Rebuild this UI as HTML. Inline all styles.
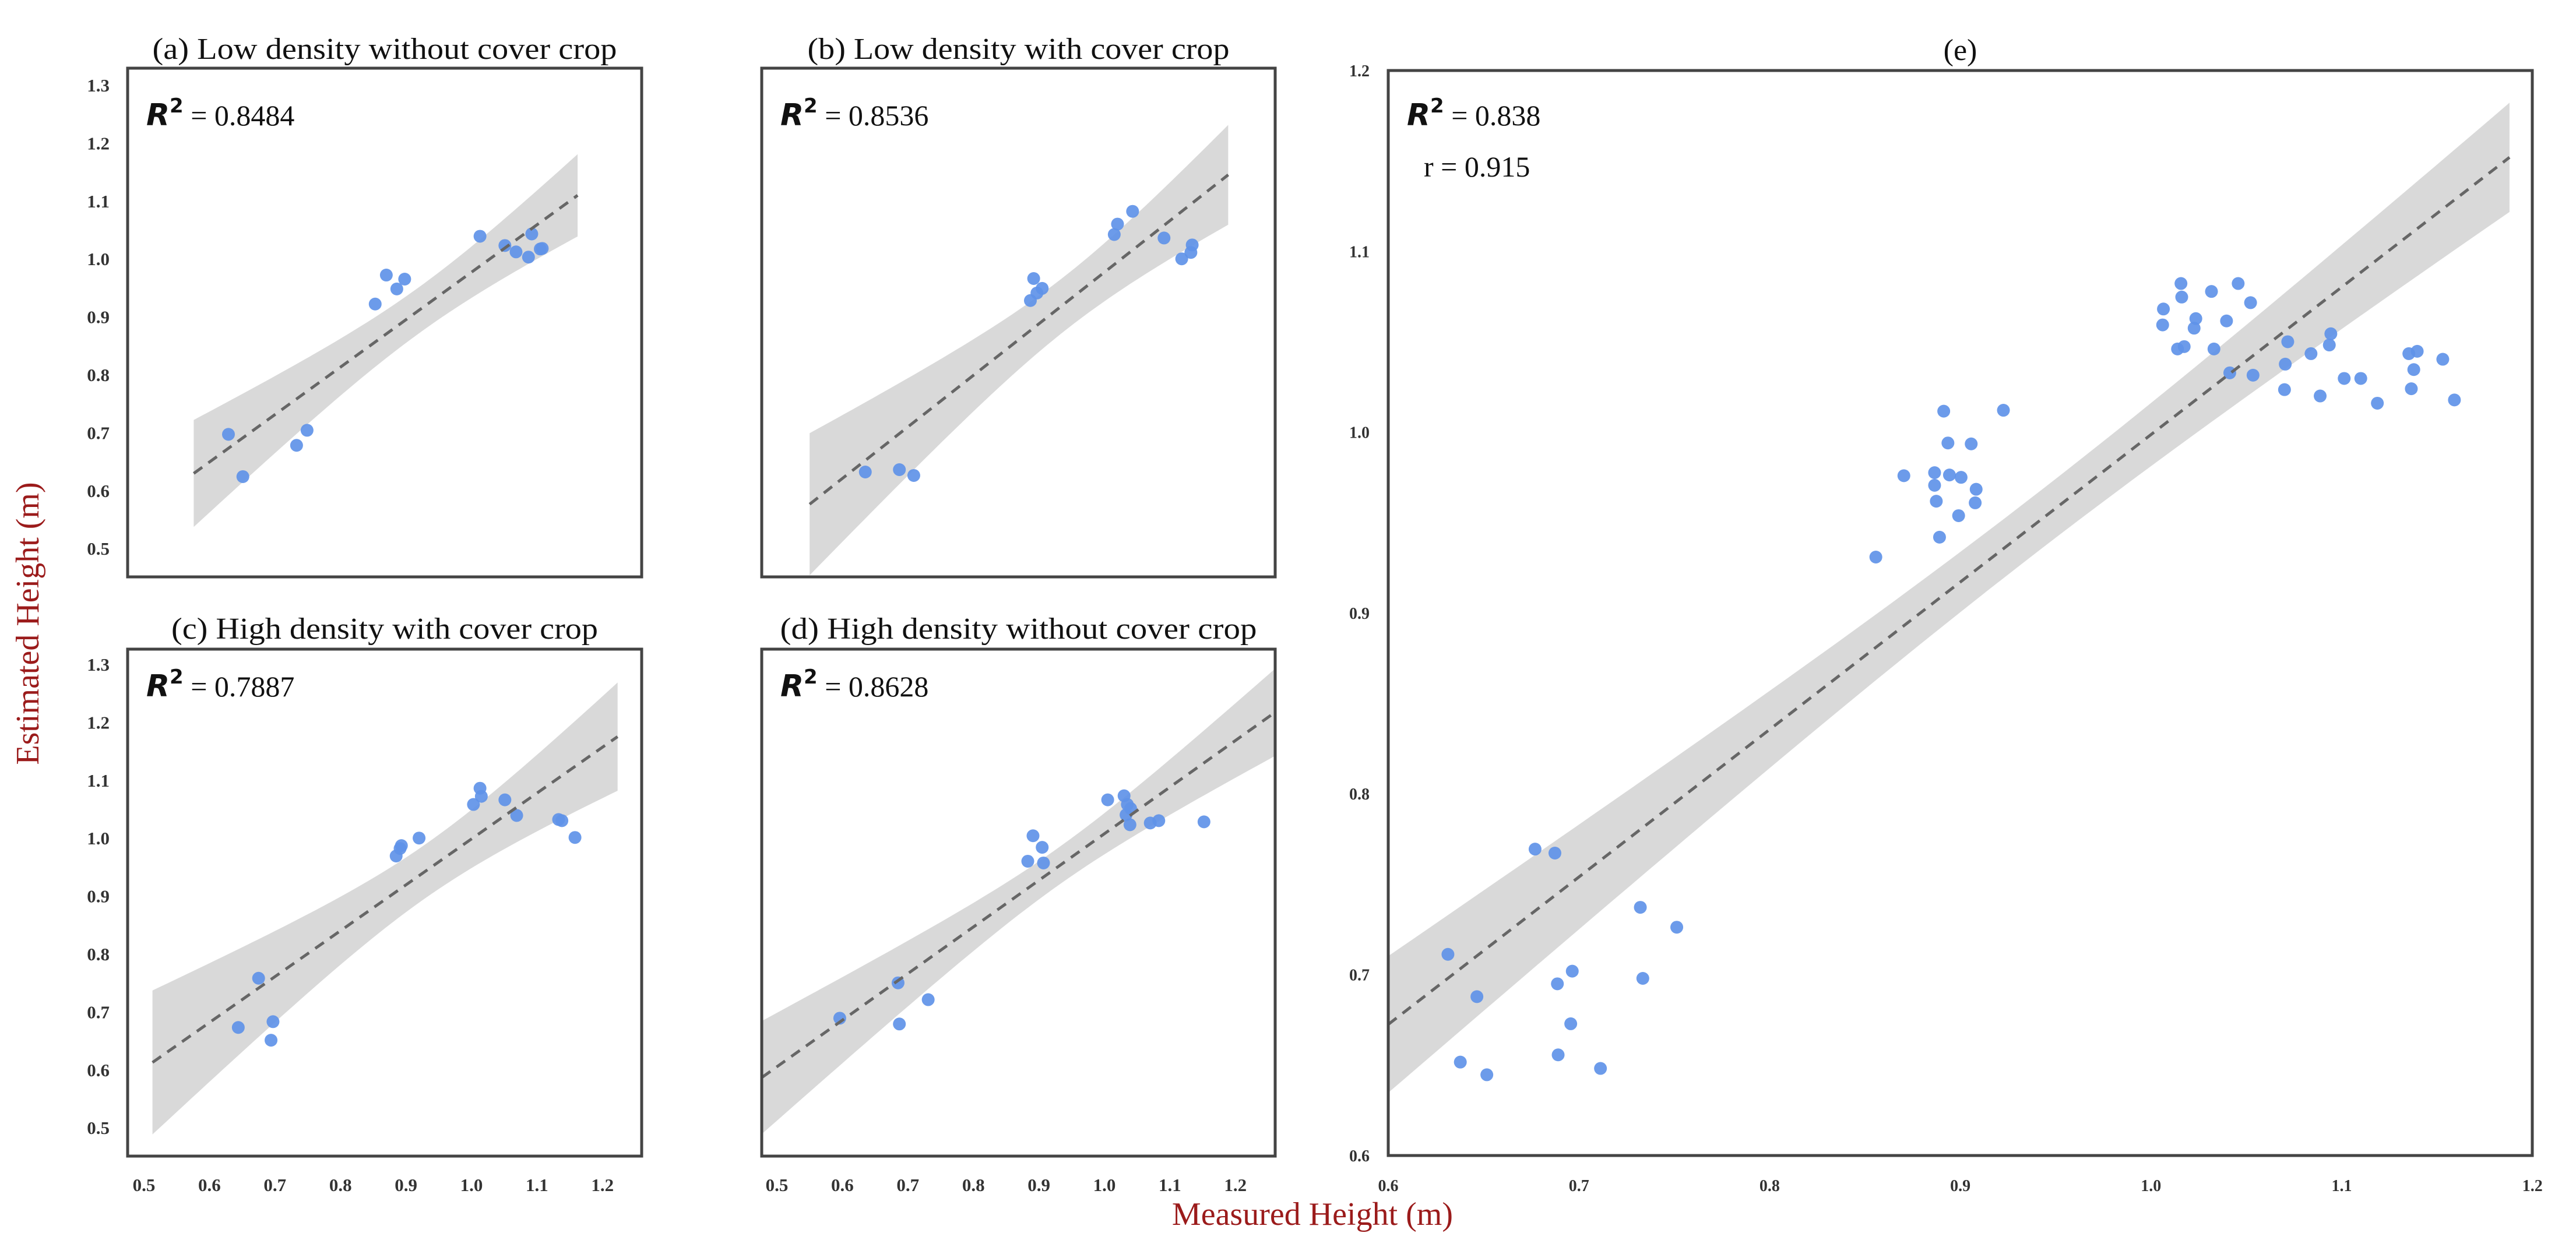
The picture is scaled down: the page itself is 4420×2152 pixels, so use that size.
<!DOCTYPE html>
<html><head><meta charset="utf-8">
<style>
html,body{margin:0;padding:0;background:#fff;}
svg{display:block;}
text{font-family:"Liberation Serif",serif;}
</style></head>
<body>
<svg id="fig" xmlns="http://www.w3.org/2000/svg" width="4420" height="2152" viewBox="0 0 4420 2152"></svg>
<script>
// ---- data (measured, estimated) per panel ----
const aX=[0.629,0.651,0.733,0.749,0.853,0.870,0.886,0.898,1.013,1.051,1.068,1.087,1.092,1.105,1.108];
const aY=[0.698,0.625,0.679,0.705,0.923,0.973,0.949,0.966,1.040,1.024,1.013,1.004,1.044,1.018,1.019];
const bX=[0.635,0.687,0.709,0.887,0.892,0.897,0.905,1.015,1.020,1.043,1.091,1.118,1.132,1.134];
const bY=[0.633,0.637,0.627,0.929,0.967,0.942,0.950,1.043,1.061,1.083,1.037,1.001,1.012,1.025];
const cX=[0.644,0.675,0.694,0.697,0.885,0.891,0.893,0.920,1.003,1.013,1.015,1.051,1.069,1.133,1.138,1.158];
const cY=[0.674,0.759,0.652,0.684,0.970,0.983,0.988,1.001,1.059,1.087,1.073,1.067,1.040,1.033,1.031,1.002];
const dX=[0.596,0.685,0.687,0.731,0.883,0.891,0.905,0.907,1.005,1.030,1.033,1.035,1.039,1.040,1.070,1.083,1.152];
const dY=[0.690,0.751,0.680,0.722,0.961,1.005,0.985,0.958,1.067,1.074,1.041,1.059,1.024,1.052,1.027,1.031,1.029];
const eX=[0.6313,0.6465,0.6378,0.6517,0.6770,0.6874,0.6887,0.6965,0.6957,0.6891,0.7113,0.7322,0.7335,0.7513,0.8557,0.8704,0.8865,0.8865,0.8874,0.8891,0.8913,0.8935,0.8943,0.9004,0.8991,0.9057,0.9083,0.9078,0.9226,1.0065,1.0061,1.0157,1.0161,1.0139,1.0174,1.0235,1.0226,1.0317,1.0330,1.0396,1.0413,1.0457,1.0522,1.0535,1.0717,1.0704,1.0700,1.0839,1.0887,1.0943,1.0935,1.1013,1.1100,1.1187,1.1352,1.1396,1.1378,1.1365,1.1530,1.1591];
const eY=[0.7112,0.6878,0.6516,0.6446,0.7694,0.7672,0.6949,0.7019,0.6728,0.6556,0.6481,0.7372,0.6979,0.7262,0.9309,0.9759,0.9776,0.9706,0.9618,0.9419,1.0116,0.9940,0.9763,0.9750,0.9538,0.9935,0.9684,0.9609,1.0121,1.0681,1.0593,1.0822,1.0747,1.0460,1.0473,1.0628,1.0575,1.0778,1.0460,1.0615,1.0328,1.0822,1.0716,1.0315,1.0500,1.0376,1.0235,1.0434,1.0200,1.0544,1.0482,1.0297,1.0297,1.0160,1.0434,1.0447,1.0346,1.0240,1.0403,1.0178];
// fit-line extents (data units)
const lineExt={a:[0.576,1.162],b:[0.550,1.189],c:[0.513,1.223],d:[0.477,1.260],e:[0.600,1.188]};
const titles={a:"(a) Low density without cover crop",b:"(b) Low density with cover crop",c:"(c) High density with cover crop",d:"(d) High density without cover crop",e:"(e)"};
const r2={a:"0.8484",b:"0.8536",c:"0.7887",d:"0.8628",e:"0.838"};
const smallTicks=["0.5","0.6","0.7","0.8","0.9","1.0","1.1","1.2","1.3"];
const eTicks=["0.6","0.7","0.8","0.9","1.0","1.1","1.2"];

const NS="http://www.w3.org/2000/svg";
const svg=document.getElementById('fig');
function el(tag,attrs,parent){const e=document.createElementNS(NS,tag);for(const k in attrs)e.setAttribute(k,attrs[k]);(parent||svg).appendChild(e);return e;}

const panels=[
 {id:'a',xs:aX,ys:aY,L:219,R:1101,T:117,B:990,x0:0.5,px0:247,xs1:1124,y0:1.3,py0:147,ys1:994,yt:true,xt:false,tt:101,tw:797,r2y:215,dot:11,tm:2.5},
 {id:'b',xs:bX,ys:bY,L:1307,R:2188,T:117,B:990,x0:0.5,px0:1333,xs1:1124,y0:1.3,py0:147,ys1:994,yt:false,xt:false,tt:101,tw:724,r2y:215,dot:11,tm:2.5},
 {id:'c',xs:cX,ys:cY,L:219,R:1101,T:1114,B:1984,x0:0.5,px0:247,xs1:1124,y0:1.3,py0:1141,ys1:994,yt:true,xt:true,tt:1096,tw:732,r2y:1195,dot:11,tm:2.5},
 {id:'d',xs:dX,ys:dY,L:1307,R:2188,T:1114,B:1984,x0:0.5,px0:1333,xs1:1124,y0:1.3,py0:1141,ys1:994,yt:false,xt:true,tt:1096,tw:818,r2y:1195,dot:11,tm:2.5},
 {id:'e',xs:eX,ys:eY,L:2382,R:4345,T:121,B:1983,x0:0.6,px0:2382,xs1:3272,y0:1.2,py0:121,ys1:3103,yt:true,xt:true,tt:103,tw:0,r2y:215,dot:11,tm:2.1}
];

panels.forEach(p=>{
  const g=el('g',{});
  
  
  const sx=v=>p.px0+(v-p.x0)*p.xs1;
  const sy=v=>p.py0+(p.y0-v)*p.ys1;
  const clip=el('clipPath',{id:'clip'+p.id},g);
  el('rect',{x:p.L,y:p.T,width:p.R-p.L,height:p.B-p.T},clip);
  const inner=el('g',{'clip-path':'url(#clip'+p.id+')'},g);
  const n=p.xs.length;
  const mx=p.xs.reduce((s,v)=>s+v,0)/n, my=p.ys.reduce((s,v)=>s+v,0)/n;
  let sxx=0,sxy=0;for(let i=0;i<n;i++){sxx+=(p.xs[i]-mx)**2;sxy+=(p.xs[i]-mx)*(p.ys[i]-my);}
  const slope=sxy/sxx, icpt=my-slope*mx;
  let sse=0;for(let i=0;i<n;i++){sse+=(p.ys[i]-(icpt+slope*p.xs[i]))**2;}
  const s=Math.sqrt(sse/(n-2)), t=p.tm;
  const [xa,xb]=lineExt[p.id];
  const up=[],lo=[];
  for(let k=0;k<=60;k++){const x=xa+(xb-xa)*k/60;const f=icpt+slope*x;const h=t*s*Math.sqrt(1/n+(x-mx)**2/sxx);
    up.push(sx(x).toFixed(1)+','+sy(f+h).toFixed(1));lo.unshift(sx(x).toFixed(1)+','+sy(f-h).toFixed(1));}
  const band=el('polygon',{points:up.concat(lo).join(' '),fill:'#d9d9d9'},inner);
  
  
  for(let i=0;i<n;i++){
    const c=el('circle',{cx:sx(p.xs[i]),cy:sy(p.ys[i]),r:p.dot,fill:'#5f93e8','fill-opacity':0.92},inner);
    
    
  }
  const ln=el('line',{x1:sx(xa),y1:sy(icpt+slope*xa),x2:sx(xb),y2:sy(icpt+slope*xb),stroke:'#666','stroke-width':5,'stroke-dasharray':'18 13'},inner);
  
  
  const fr=el('rect',{x:p.L,y:p.T,width:p.R-p.L,height:p.B-p.T,fill:'none',stroke:'#444','stroke-width':5},g);
  
  
  const ta={x:(p.L+p.R)/2,y:p.tt,'text-anchor':'middle','font-size':52,fill:'#111'};
  if(p.tw){ta.textLength=p.tw;ta.lengthAdjust='spacingAndGlyphs';}
  const tt=el('text',ta,g);
  tt.textContent=titles[p.id];
  
  
  const rt=el('text',{x:p.L+32,y:p.r2y,'font-size':52,fill:'#111'},g);
  
  
  const rr=el('tspan',{'font-family':'"DejaVu Sans",sans-serif','font-weight':'bold','font-style':'italic','font-size':52},rt);rr.textContent='R';
  const r2s=el('tspan',{'font-family':'"DejaVu Sans",sans-serif','font-weight':'bold','font-size':34,dy:-22},rt);r2s.textContent='2';
  const rv=el('tspan',{dy:22,'font-size':50},rt);rv.textContent=' = '+r2[p.id];
  if(p.id==='e'){
    const r=el('text',{x:p.L+61,y:303,'font-size':50,fill:'#111'},g);
    r.textContent='r = 0.915';
    
    
  }
  const ticks=p.id==='e'?eTicks:smallTicks;
  const fs=p.id==='e'?28:31;
  if(p.yt){ticks.forEach(tk=>{const v=parseFloat(tk);const y=sy(v);if(y<p.T-40||y>p.B+20)return;
    const t=el('text',{x:p.L-(p.id==='e'?32:31),y:y+10,'text-anchor':'end','font-size':fs,'font-weight':'bold',fill:'#333'},g);t.textContent=tk;
    
    });}
  if(p.xt){ticks.forEach(tk=>{const v=parseFloat(tk);const x=sx(v);if(v>1.2001)return;
    const t=el('text',{x:x,y:2044,'text-anchor':'middle','font-size':fs,'font-weight':'bold',fill:'#333'},g);t.textContent=tk;
    
    });}
});
const yl=el('text',{x:0,y:0,transform:'translate(66,1070) rotate(-90)','text-anchor':'middle','font-size':56,fill:'#9b1b1b'});
yl.textContent='Estimated Height (m)';


const xl=el('text',{x:2493,y:2102,'text-anchor':'end','font-size':56,fill:'#9b1b1b'});
xl.textContent='Measured Height (m)';


</script>
</body></html>
